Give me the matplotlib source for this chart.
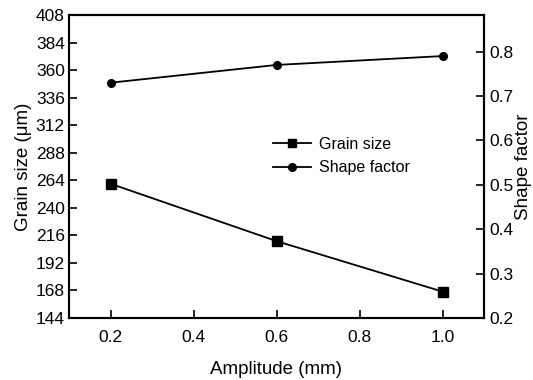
import matplotlib
matplotlib.use("Agg")
import matplotlib.pyplot as plt
from matplotlib.lines import Line2D

plt.rcParams['font.family'] = ['Liberation Sans', 'DejaVu Sans']

amplitude = [0.2, 0.6, 1.0]
grain_size = [261, 211, 167]
shape_factor = [0.730, 0.770, 0.790]
xticks = [0.2, 0.4, 0.6, 0.8, 1.0]
yticks_left = list(range(144, 409, 24))
yticks_right = [0.2, 0.3, 0.4, 0.5, 0.6, 0.7, 0.8]

fig = plt.figure(figsize=(5.33, 3.80), dpi=100)
ax = fig.add_axes([69/533, 1-318/380, (484-69)/533, (318-15)/380])
ax2 = ax.twinx()

ax.plot(amplitude, grain_size, color='black', lw=1.3, marker='s', ms=6.5)
ax2.plot(amplitude, shape_factor, color='black', lw=1.3, marker='o', ms=5.5)

ax.set_xlim(0.1, 1.1)
ax.set_ylim(144, 408)
ax2.set_ylim(0.2, 0.8825)
ax.set_xticks(xticks)
ax.set_xticklabels([f"{v:.1f}" for v in xticks])
ax.set_yticks(yticks_left)
ax2.set_yticks(yticks_right)
ax2.set_yticklabels([f"{v:.1f}" for v in yticks_right])

for a in (ax, ax2):
    for s in a.spines.values():
        s.set_linewidth(1.5)
ax.tick_params(axis='x', direction='in', length=6, width=1.2, labelsize=12.5, pad=9)
ax.tick_params(axis='y', direction='in', length=6, width=1.2, labelsize=12.5, pad=3)
ax2.tick_params(axis='y', direction='in', length=6, width=1.2, labelsize=12.5, pad=4)

ax.set_xlabel('Amplitude (mm)', fontsize=13.5, labelpad=11)
ax.set_ylabel('Grain size (μm)', fontsize=13.5, labelpad=3)
ax2.set_ylabel('Shape factor', fontsize=13.5, labelpad=1)

handles = [Line2D([], [], color='black', lw=1.3, marker='s', ms=6),
           Line2D([], [], color='black', lw=1.3, marker='o', ms=5.5)]
ax.legend(handles, ['Grain size', 'Shape factor'], frameon=False, fontsize=11.5,
          loc='center left', bbox_to_anchor=(0.457, 0.535), handlelength=2.4,
          handletextpad=0.5, labelspacing=0.55)

fig.savefig('out.png', dpi=100)
